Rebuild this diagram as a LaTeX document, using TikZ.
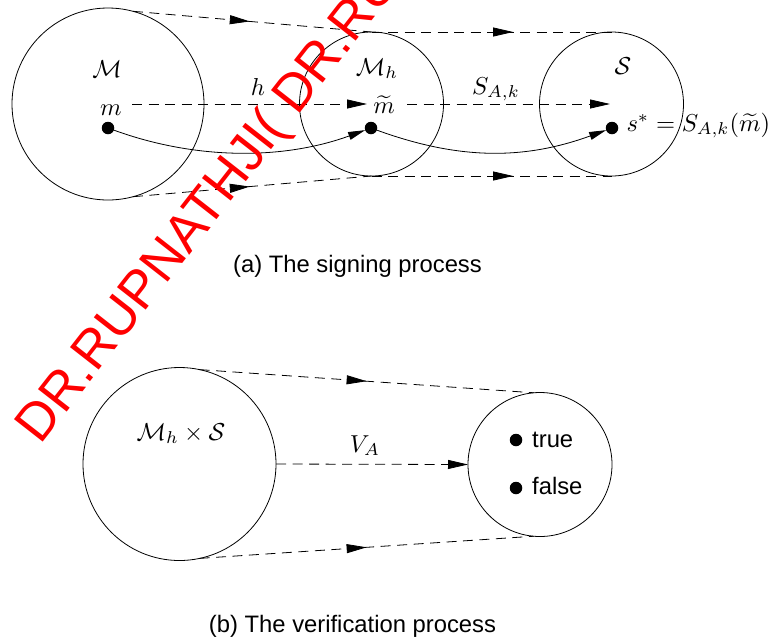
\documentclass[tikz,border=0pt]{standalone}
\usepackage{fontspec}
\newfontfamily\sansfam{Liberation Sans}
\usetikzlibrary{arrows.meta,decorations.markings}
\tikzset{
  ring/.style={circle, draw, line width=0.8pt, inner sep=0pt, outer sep=0pt},
  dot/.style={circle, fill, inner sep=0pt, outer sep=0pt, minimum size=12.5pt},
  dashln/.style={dash pattern=on 10pt off 6.5pt, line width=0.8pt},
  bigtip/.style={-{Triangle[length=20pt,width=9pt]}},
  curvetip/.style={line width=0.8pt, -{Triangle[length=17pt,width=8pt]}},
  midarrow/.style={postaction={decorate}, decoration={markings,
      mark=at position #1 with {\arrow{Triangle[length=20pt,width=9pt]}}}},
  mathlab/.style={font=\fontsize{10}{12}\selectfont, scale=2.45, inner sep=0pt, anchor=base},
  sanslab/.style={font=\sansfam\fontsize{23.8}{28}\selectfont, inner sep=0pt},
  watermark/.style={font=\sansfam\fontsize{53}{60}\selectfont, text=red, inner sep=0pt}
}
\begin{document}
\begin{tikzpicture}[x=1pt,y=-1pt]
\useasboundingbox (0,0) rectangle (770,641);

% ---------- (a) signing process ----------
\node[ring, minimum size=192pt] (M)  at (108,104) {};
\node[ring, minimum size=144pt] (Mh) at (371.5,104) {};
\node[ring, minimum size=144pt] (S)  at (611.5,104) {};

\node[mathlab] (lM)   at (107,77)  {$\mathcal{M}$};
\node[mathlab] (lm)   at (111,115) {$m$};
\node[mathlab] (lh)   at (258,95)  {$h$};
\node[mathlab] (lMh)  at (377,75)  {$\mathcal{M}_h$};
\node[mathlab] (lmt)  at (384,113) {$\widetilde{m}$};
\node[mathlab] (lSAk) at (496,94)  {$S_{A,k}$};
\node[mathlab] (lS)   at (623,74)  {$\mathcal{S}$};
\node[mathlab, anchor=base west] (lsig) at (626,131) {$s^* = S_{A,k}(\widetilde{m})$};

\node[dot] (md)  at (108,128) {};
\node[dot] (mtd) at (371,128) {};
\node[dot] (sd)  at (612,128) {};

\draw[dashln, midarrow=0.49] (M.75)  -- (Mh.90);
\draw[dashln, midarrow=0.59] (Mh.90) -- (S.90);
\draw[dashln, midarrow=0.49] (M.-75) -- (Mh.-90);
\draw[dashln, midarrow=0.59] (Mh.-90) -- (S.-90);

\coordinate (h0) at (132,104);
\coordinate (h1) at (367,104);
\coordinate (k0) at (407,104);
\coordinate (k1) at (610,104);
\draw[dashln, bigtip] (h0) -- (h1);
\draw[dashln, bigtip] (k0) -- (k1);

\draw[curvetip] (md)  .. controls +(88,32) and +(-88,32) .. (mtd);
\draw[curvetip] (mtd) .. controls +(88,32) and +(-88,32) .. (sd);

\node[sanslab, anchor=base] (capa) at (357.5,272) {(a) The signing process};

% ---------- (b) verification process ----------
\node[ring, minimum size=193pt] (MS) at (179.5,464) {};
\node[ring, minimum size=144pt] (TF) at (540,464.5) {};

\node[mathlab] (lMS) at (181,440) {$\mathcal{M}_h\times\mathcal{S}$};
\node[mathlab] (lVA) at (365,452) {$V_A$};

\draw[dashln, midarrow=0.5] (MS.78)  -- (TF.95);
\draw[dashln, midarrow=0.5] (MS.-78) -- (TF.-95);
\draw[dashln, bigtip] (MS.east) -- (TF.west);

\node[dot] (td) at (516,440) {};
\node[dot] (fd) at (516,488) {};
\node[sanslab, anchor=base west] (ltrue)  at (532,447) {true};
\node[sanslab, anchor=base west] (lfalse) at (532,494) {false};

\node[sanslab, anchor=base] (capb) at (352.5,632) {(b) The verification process};

% ---------- watermark ----------
\node[watermark, rotate=52, anchor=base west] (wm) at (40.5,445.5) {DR.RUPNATHJI( DR.RUPNATHJI(};
\end{tikzpicture}
\end{document}
